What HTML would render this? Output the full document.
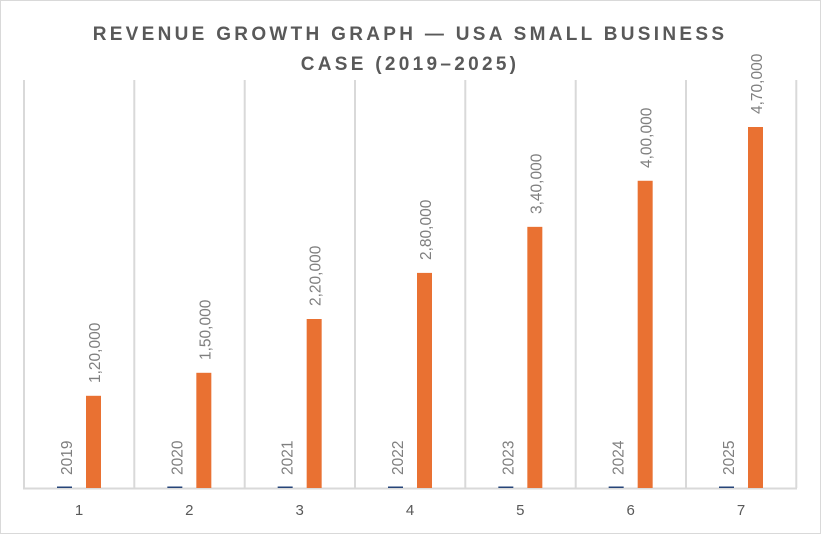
<!DOCTYPE html>
<html><head><style>
body{margin:0;background:#fff}
svg{display:block}
</style></head><body>
<svg width="821" height="534" xmlns="http://www.w3.org/2000/svg" font-family="Liberation Sans, sans-serif">
<rect x="0.5" y="0.5" width="820" height="533" fill="#fff" stroke="#d9d9d9"/>
<g fill="#595959" font-weight="bold" font-size="19" letter-spacing="3.3" text-anchor="middle">
<text x="410" y="40">REVENUE GROWTH GRAPH — USA SMALL BUSINESS</text>
<text x="410" y="70">CASE (2019–2025)</text>
</g>
<g stroke="#d9d9d9" stroke-width="2">
<line x1="24" y1="80" x2="24" y2="488"/><line x1="134.3" y1="80" x2="134.3" y2="488"/>
<line x1="244.7" y1="80" x2="244.7" y2="488"/><line x1="355" y1="80" x2="355" y2="488"/>
<line x1="465.3" y1="80" x2="465.3" y2="488"/><line x1="575.7" y1="80" x2="575.7" y2="488"/>
<line x1="686" y1="80" x2="686" y2="488"/><line x1="796.3" y1="80" x2="796.3" y2="488"/>
<line x1="23" y1="488.5" x2="797" y2="488.5"/>
</g>
<g fill="#264478">
<rect x="57" y="486.5" width="15" height="1.5"/>
<rect x="167.33" y="486.5" width="15" height="1.5"/>
<rect x="277.67" y="486.5" width="15" height="1.5"/>
<rect x="388" y="486.5" width="15" height="1.5"/>
<rect x="498.33" y="486.5" width="15" height="1.5"/>
<rect x="608.67" y="486.5" width="15" height="1.5"/>
<rect x="719" y="486.5" width="15" height="1.5"/>
</g>
<g fill="#E97132">
<rect x="86" y="395.8" width="15" height="92.2"/>
<rect x="196.33" y="372.8" width="15" height="115.2"/>
<rect x="306.67" y="319" width="15" height="169"/>
<rect x="417" y="272.9" width="15" height="215.1"/>
<rect x="527.33" y="226.85" width="15" height="261.15"/>
<rect x="637.67" y="180.77" width="15" height="307.23"/>
<rect x="748" y="127" width="15" height="361"/>
</g>
<g font-size="15.5" fill="#7f7f7f">
<text transform="translate(72,475) rotate(-90)">2019</text>
<text transform="translate(182.33,475) rotate(-90)">2020</text>
<text transform="translate(292.67,475) rotate(-90)">2021</text>
<text transform="translate(403,475) rotate(-90)">2022</text>
<text transform="translate(513.33,475) rotate(-90)">2023</text>
<text transform="translate(623.67,475) rotate(-90)">2024</text>
<text transform="translate(734,475) rotate(-90)">2025</text>
<text transform="translate(100,383) rotate(-90)">1,20,000</text>
<text transform="translate(210.33,360) rotate(-90)">1,50,000</text>
<text transform="translate(320.67,306) rotate(-90)">2,20,000</text>
<text transform="translate(431,260) rotate(-90)">2,80,000</text>
<text transform="translate(541.33,214) rotate(-90)">3,40,000</text>
<text transform="translate(651.67,168) rotate(-90)">4,00,000</text>
<text transform="translate(762,114) rotate(-90)">4,70,000</text>
</g>
<g font-size="15" fill="#595959" text-anchor="middle">
<text x="79" y="515">1</text>
<text x="189.33" y="515">2</text>
<text x="299.67" y="515">3</text>
<text x="410" y="515">4</text>
<text x="520.33" y="515">5</text>
<text x="630.67" y="515">6</text>
<text x="741" y="515">7</text>
</g>
</svg>
</body></html>
